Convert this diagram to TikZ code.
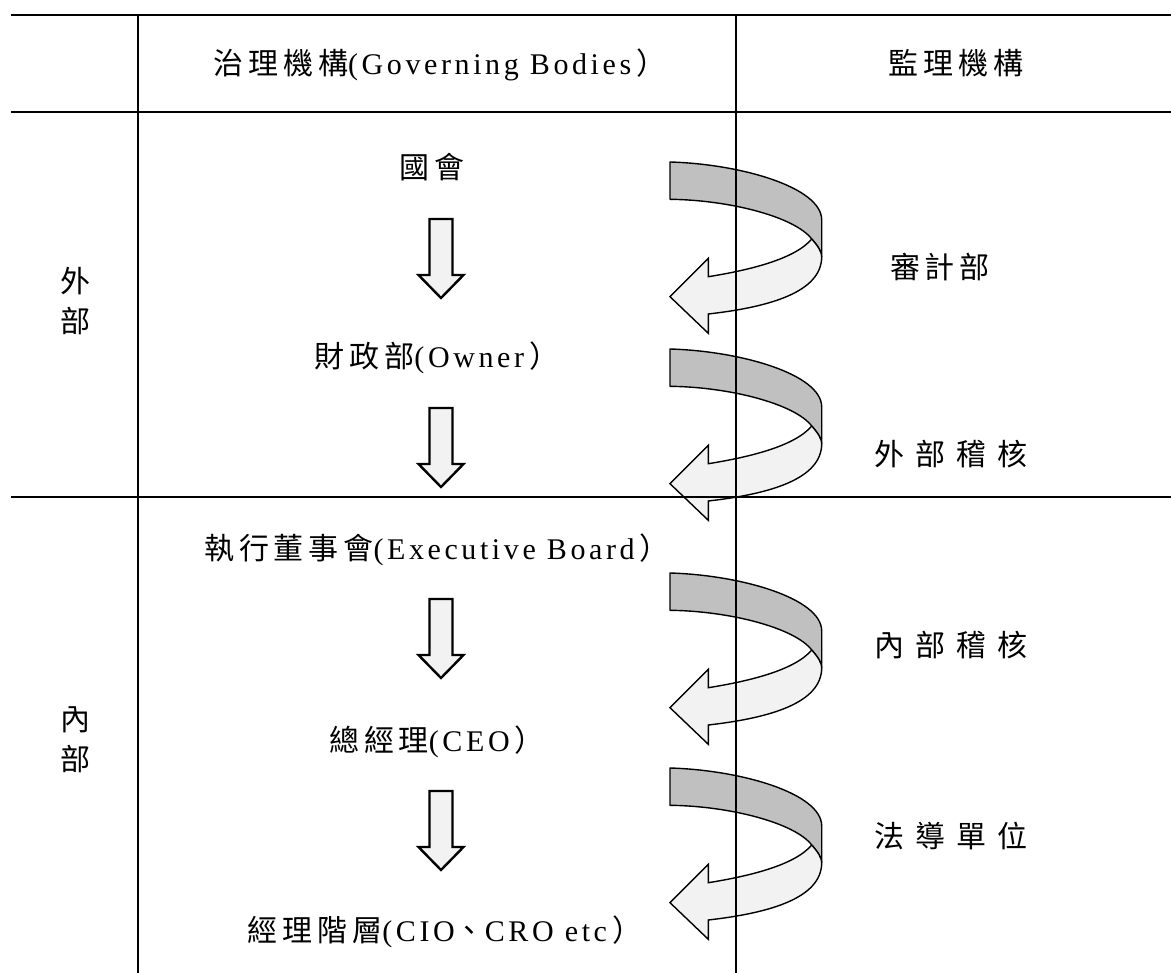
\documentclass[tikz,border=0pt]{standalone}
\usepackage{fontspec}
\setmainfont{Liberation Serif}[LetterSpace=12]
\newfontfamily\cjk{Noto Sans CJK TC}[LetterSpace=16]
\newfontfamily\cjkwide{Noto Sans CJK TC}[LetterSpace=36]
\newcommand{\rp}{\hspace{5pt}{\cjk ）}}
\definecolor{backc}{RGB}{192,192,192}
\definecolor{frontc}{RGB}{242,242,242}
\tikzset{
  lbl/.style={inner sep=0pt, font=\fontsize{30}{40}\selectfont, text height=26pt, text depth=4pt, align=center},
  rule/.style={line width=2.6pt},
  curvarrow/.pic={
    \filldraw[fill=backc, line width=1.4pt, line join=round]
      (0,0) .. controls (70,2) and (151.7,25) .. (151.7,58) -- (151.7,94.7)
      .. controls (151.7,90) and (148,84) .. (141.7,77)
      .. controls (125,55) and (60,38) .. (0,37.3) -- cycle;
    \filldraw[fill=frontc, line width=1.4pt, line join=miter]
      (38.3,114.7) .. controls (80,108) and (125,97) .. (141.7,77)
      .. controls (148,84) and (151.7,90) .. (151.7,94.7)
      .. controls (151.7,130) and (100,145) .. (38.3,152)
      -- (38.3,171.3) -- (0,134.7) -- (38.3,96.3) -- cycle;
  },
  downarr/.pic={
    \filldraw[fill=frontc, line width=2.4pt, line join=miter]
      (-11.5,0) -- (11.5,0) -- (11.5,56) -- (22.5,56) -- (0,79) -- (-22.5,56) -- (-11.5,56) -- cycle;
  }
}
\begin{document}
\begin{tikzpicture}[x=1pt,y=-1pt]
\useasboundingbox (0,0) rectangle (1171,973);
% curved arrows
\pic at (670,162) {curvarrow};
\pic at (670,349) {curvarrow};
\pic at (670,573) {curvarrow};
\pic at (670,768) {curvarrow};
% down arrows
\pic at (441,219) {downarr};
\pic at (441,408) {downarr};
\pic at (441,599) {downarr};
\pic at (441,791) {downarr};
% header
\node[lbl] (h1) at (440,64) {{\cjk 治理機構}(Governing Bodies\rp};
\node[lbl] (h2) at (956,64) {{\cjk 監理機構}};
% left column
\node[lbl] (ext) at (75,322) {{\cjk 外}\\{\cjk 部}};
\node[lbl] (int) at (75,759) {{\cjk 內}\\{\cjk 部}};
% governing bodies
\node[lbl] (g1) at (432,168) {{\cjk 國會}};
\node[lbl] (g2) at (437,357) {{\cjk 財政部}(Owner\rp};
\node[lbl] (g3) at (437,548) {{\cjk 執行董事會}(Executive Board\rp};
\node[lbl] (g4) at (437,740) {{\cjk 總經理}(CEO\rp};
\node[lbl] (g5) at (445,930) {{\cjk 經理階層}(CIO{\cjk 、}CRO etc\rp};
% supervisory bodies
\node[lbl] (s1) at (940,268) {{\cjk 審計部}};
\node[lbl] (s2) at (951,455) {{\cjkwide 外部稽核}};
\node[lbl] (s3) at (951,645) {{\cjkwide 內部稽核}};
\node[lbl] (s4) at (951,836) {{\cjkwide 法導單位}};
% table rules
\draw[rule] (11,15) -- (1171,15);
\draw[rule] (11,112) -- (1171,112);
\draw[rule] (11,497) -- (1171,497);
\draw[rule] (138,15) -- (138,973);
\draw[rule] (736,15) -- (736,973);
\end{tikzpicture}
\end{document}
